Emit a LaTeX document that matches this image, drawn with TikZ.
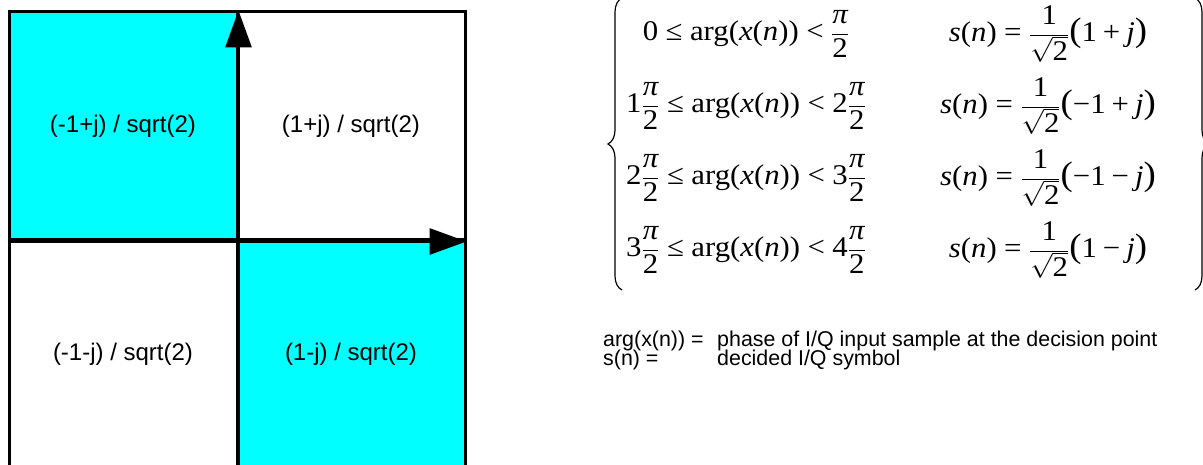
\documentclass[tikz,border=0pt]{standalone}
\usepackage[no-math]{fontspec}
\newfontfamily\arialfont{Liberation Sans}
\newfontfamily\timesfont{Liberation Serif}
\usepackage{tikz}
\usetikzlibrary{arrows.meta}
\usetikzlibrary{decorations.pathreplacing}
\definecolor{aqua}{RGB}{0,255,255}
% Times-like pieces for the formulas
\newcommand{\rv}[1]{\mbox{\timesfont #1}}
\newcommand{\iv}[1]{\mbox{\timesfont\itshape #1}}
\newcommand{\rel}[1]{\mathrel{\mbox{\timesfont #1}}}
\newcommand{\bin}[1]{\mathbin{\mbox{\timesfont #1}}}
\newcommand{\bigp}[1]{\mbox{\timesfont\fontsize{34}{34}\selectfont #1}}
\newcommand{\argx}{\rv{arg(}\iv{x}\rv{(}\iv{n}\rv{))}}
\newcommand{\pihalf}{\frac{\iv{π}}{\rv{2}}}
\newcommand{\symb}[1]{\iv{s}\rv{(}\iv{n}\rv{)}\rel{=}\frac{\rv{1}}{\sqrt{\rv{2}}}\mathopen{\bigp{(}}#1\mathclose{\bigp{)}}}

\begin{document}
\begin{tikzpicture}[x=1pt, y=1pt,
    cell/.style={draw, line width=3pt, minimum width=228pt, minimum height=228pt,
        inner sep=0pt, font=\arialfont\fontsize{24}{28}\selectfont},
    axis/.style={line width=3pt, -{Triangle[length=37pt, width=26pt]}},
    case/.style={font=\fontsize{28.5}{32}\selectfont, xscale=1.08, inner sep=0pt},
    legend/.style={anchor=base west, inner sep=0pt, font=\arialfont\fontsize{21.4}{24}\selectfont},
    brace/.style={decorate, decoration={brace, amplitude=14pt}, line width=1.2pt}]
    \useasboundingbox (0,0) rectangle (1203,465);

    % Decision regions
    \node[cell, fill=aqua] (q2) at (123,339) {(-1+j) / sqrt(2)};
    \node[cell] (q1) at (351,339) {(1+j) / sqrt(2)};
    \node[cell] (q3) at (123,111) {(-1-j) / sqrt(2)};
    \node[cell, fill=aqua] (q4) at (351,111) {(1-j) / sqrt(2)};

    % I and Q axes
    \draw[axis] (q3.south east) -- (q2.north east);
    \draw[axis] (q2.south west) -- (q1.south east);

    % Decision rule
    \node[case] (r1l) at (746,431) {$\displaystyle \rv{0}\rel{≤}\argx\rel{<}\pihalf$};
    \node[case] (r2l) at (746,359) {$\displaystyle \rv{1}\pihalf\rel{≤}\argx\rel{<}\rv{2}\pihalf$};
    \node[case] (r3l) at (746,287) {$\displaystyle \rv{2}\pihalf\rel{≤}\argx\rel{<}\rv{3}\pihalf$};
    \node[case] (r4l) at (746,215) {$\displaystyle \rv{3}\pihalf\rel{≤}\argx\rel{<}\rv{4}\pihalf$};
    \node[case] (r1r) at (1048,431) {$\displaystyle \symb{\rv{1}\bin{+}\iv{j}}$};
    \node[case] (r2r) at (1048,359) {$\displaystyle \symb{\rv{−1}\bin{+}\iv{j}}$};
    \node[case] (r3r) at (1048,287) {$\displaystyle \symb{\rv{−1}\bin{−}\iv{j}}$};
    \node[case] (r4r) at (1048,215) {$\displaystyle \symb{\rv{1}\bin{−}\iv{j}}$};
    \draw[brace] (622,175) -- (622,467);
    \draw[brace] (1195,467) -- (1195,175);

    % Legend
    \node[legend] (argkey) at (603,118) {arg(x(n)) =};
    \node[legend] (argtxt) at (717,118) {phase of I/Q input sample at the decision point};
    \node[legend] (symkey) at (603,99) {s(n) =};
    \node[legend] (symtxt) at (717,99) {decided I/Q symbol};
\end{tikzpicture}
\end{document}
